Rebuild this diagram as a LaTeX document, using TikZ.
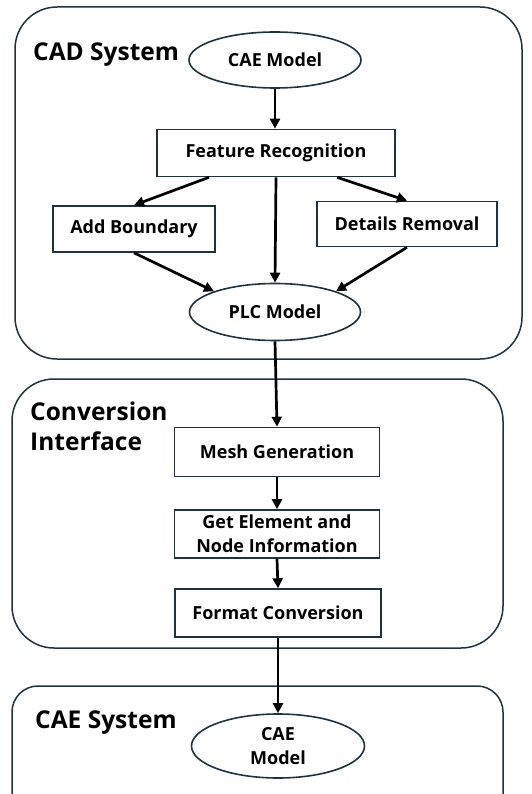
\documentclass[tikz,border=0pt]{standalone}
\usepackage{fontspec}
\setmainfont{Open Sans}
\usetikzlibrary{shapes.geometric,arrows.meta}
\definecolor{edge}{RGB}{28,52,66}

\begin{document}
\begin{tikzpicture}[x=1pt,y=-1pt,
  box/.style={draw=edge,line width=1.6pt,rectangle,inner sep=0pt,align=center,
    font=\bfseries\fontsize{18}{24}\selectfont},
  oval/.style={draw=edge,line width=1.6pt,ellipse,inner sep=0pt,align=center,
    font=\bfseries\fontsize{18}{24}\selectfont},
  frame/.style={draw=edge,line width=1.5pt,rounded corners=42pt},
  title/.style={inner sep=0pt,align=left,font=\bfseries\fontsize{24.5}{30}\selectfont},
  arr/.style={line width=2.7pt,-{Triangle[length=10pt,width=10pt]}}]

\clip (0,0) rectangle (531,794);

% the three blocks
\draw[frame] (15,7) rectangle (522,359);
\draw[frame] (12,379) rectangle (503,648);
\draw[frame,rounded corners=26pt] (12,686) rectangle (503,830);

\node[title,anchor=base west] (cad) at (33,61) {CAD System};
\node[title,anchor=north west] (conv) at (30,402) {Conversion\\Interface};
\node[title,anchor=base west] (cae) at (35,728) {CAE System};

% CAD side
\node[oval,minimum width=172pt,minimum height=56pt] (caein) at (275,60) {CAE Model};
\node[box,minimum width=238pt,minimum height=47pt] (feat) at (276,153) {Feature Recognition};
\node[box,minimum width=162pt,minimum height=46pt] (addb) at (134,229) {Add Boundary};
\node[box,minimum width=180pt,minimum height=45pt] (detr) at (407,224) {Details Removal};
\node[oval,minimum width=171pt,minimum height=57pt] (plc) at (275,312) {PLC Model};

% conversion
\node[box,minimum width=205pt,minimum height=49pt] (mesh) at (277,452) {Mesh Generation};
\node[box,minimum width=205pt,minimum height=48pt] (elem) at (277,534) {Get Element and\\Node Information};
\node[box,minimum width=206pt,minimum height=48pt] (fmt) at (278,613) {Format Conversion};

% CAE side
\node[oval,minimum width=173pt,minimum height=64pt] (caeout) at (278,746) {CAE\\Model};

\draw[arr] (caein.south) -- (caein.south |- feat.north);
\draw[arr] ([xshift=-67pt]feat.south) -- (addb.north);
\draw[arr] ([xshift=61pt]feat.south) -- (detr.north);
\draw[arr] (feat.south) -- (plc.north);
\draw[arr] (addb.south) -- (plc.north west);
\draw[arr] (detr.south) -- (plc.north east);
\draw[arr] (plc.south) -- (mesh.north);
\draw[arr] (mesh.south) -- (elem.north);
\draw[arr] (elem.south) -- (fmt.north);
\draw[arr] (fmt.south) -- (caeout.north);

\end{tikzpicture}
\end{document}
